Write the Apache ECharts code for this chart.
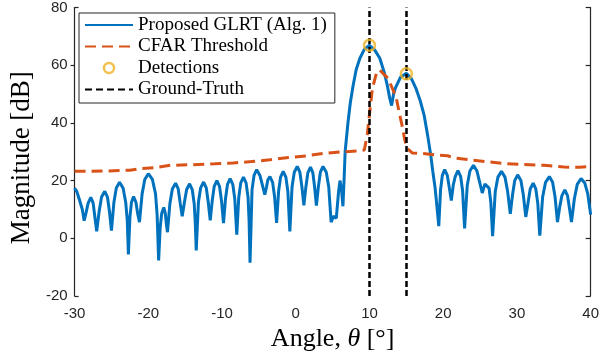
<!DOCTYPE html>
<html>
<head>
<meta charset="utf-8">
<script src="https://cdn.jsdelivr.net/npm/echarts@6/dist/echarts.min.js"></script>
<style>html,body{margin:0;padding:0;background:#fff}#c{width:602px;height:360px}</style>
</head>
<body>
<div id="c"></div>
<script>
// Angle grid (deg) and GLRT magnitude (dB)
const glrtAngle = [
 -30,-29.7,-29.3,-28.95,-28.7,-28.43,-28.16,-27.8,-27.48,-27.24,-27.0,
 -26.67,-26.34,-25.9,-25.54,-25.27,-25.0,
 -24.67,-24.34,-23.9,-23.42,-23.06,-22.85,-22.7,
 -22.49,-22.28,-22.0,-21.68,-21.44,-21.2,
 -20.84,-20.48,-20.0,-19.44,-19.02,-18.8,-18.6,
 -18.39,-18.18,-17.9,-17.7,-17.55,-17.4,
 -17.07,-16.74,-16.3,-15.94,-15.67,-15.4,
 -15.1,-14.8,-14.4,-14.04,-13.77,-13.62,-13.5,
 -13.2,-12.9,-12.5,-12.14,-11.87,-11.6,
 -11.33,-11.06,-10.7,-10.34,-10.07,-9.8,
 -9.53,-9.26,-8.9,-8.54,-8.27,-8.0,
 -7.73,-7.46,-7.1,-6.74,-6.47,-6.33,-6.2,
 -5.93,-5.66,-5.3,-4.86,-4.53,-4.2,
 -3.99,-3.78,-3.5,-3.14,-2.87,-2.6,
 -2.33,-2.06,-1.7,-1.34,-1.07,-0.8,
 -0.5,-0.2,0.2,0.56,0.83,1.1,
 1.37,1.64,2.0,2.32,2.56,2.8,
 3.07,3.34,3.7,4.14,4.47,4.8,
 5.1,5.5,5.8,6.0,6.2,6.4,
 6.55,6.7,7.1,7.4,7.8,8.2,8.7,9.3,10.0,10.7,11.4,12.0,12.4,12.75,13.0,
 13.3,13.6,14.2,15.0,15.7,16.3,16.9,17.4,17.9,18.3,18.6,18.9,19.15,19.4,
 19.64,19.88,20.2,20.56,20.83,21.1,
 21.37,21.64,22.0,22.36,22.63,22.9,
 23.26,23.62,24.1,24.58,24.94,25.3,
 25.48,25.66,25.9,26.22,26.46,26.7,
 27.06,27.42,27.9,28.38,28.74,29.1,
 29.4,29.7,30.1,30.54,30.87,31.2,
 31.5,31.8,32.2,32.56,32.83,33.1,
 33.49,33.88,34.4,34.84,35.17,35.5,
 35.8,36.1,36.5,36.86,37.13,37.4,
 37.79,38.18,38.7,39.2,39.6,40
];
const glrtDb = [
 17.4,16.2,13,10,6.1,9.0,12.2,14.2,12.2,7.2,2.4,
 9.3,14.3,16.3,14.3,9.3,2.7,
 12.4,17.4,19.4,17.4,12.4,6,-5.6,
 7.5,12.5,14.5,12.5,8.5,5.6,
 15.4,20.4,22.4,20.4,15.4,8,-7.7,
 3.7,8.7,10.7,8.7,5,2.1,
 12.1,17.1,19.1,17.1,12.1,7.6,
 12.5,16.9,18.9,16.9,11.9,5,-4.2,
 12.5,17.5,19.5,17.5,12.5,6.2,
 13.0,18.0,20.0,18.0,13.0,5.3,
 13.7,18.7,20.7,18.7,13.7,1.3,
 14.2,19.2,21.2,19.2,14.2,6,-8.5,
 16.8,21.8,23.8,21.8,18.5,15.1,
 17.5,20.3,21.4,19.4,14.4,5.3,
 16.2,21.2,23.2,21.2,16.2,2.4,
 17.9,22.9,24.9,22.9,17.9,11.4,
 17.7,22.7,24.7,22.7,17.7,11.3,
 17.9,22.9,24.9,22.9,17.9,5.6,
 7.6,7.0,16,20.0,17,11.1,
 20,30.1,40.5,47,53.2,58.5,62.4,65.5,66.9,65.3,62.4,57.5,53.2,48.5,46.0,
 50.5,52.6,55.8,57.2,55.3,52.0,47.5,42.8,35.5,29.0,23,17.5,11,4.2,
 16.8,21.8,23.8,21.8,17.5,13.1,
 18.5,21.5,23.5,21.5,16.5,3.4,
 18.3,23.3,25.3,23.3,19.5,15.7,
 17.3,18.8,19.4,17.4,12.4,0.7,
 16.2,21.2,23.2,21.2,16.2,8.5,
 15,20,22.0,20,15,7.4,
 12.1,17.1,19.1,17.1,12.1,0.9,
 14.4,19.4,21.4,19.4,14.4,5.6,
 10.8,14.8,16.8,14.8,10.3,5.6,
 13.7,18.7,20.7,19.2,15.5,8.2
];
// CFAR threshold (dB)
const cfarAngle = [-30,-26,-22.5,-21,-19,-17,-14,-11,-8.5,-6,-3.5,-1,1.5,4,6.5,8.5,9.3,9.7,10.0,10.4,11.0,11.4,11.9,12.5,13.1,13.6,14.0,14.4,14.8,15.1,15.8,17.6,19.5,20.6,21.5,23.0,25.7,28.4,31.0,33.7,36.4,38.5,40];
const cfarDb = [23.2,23.3,23.6,24.2,24.5,25.3,25.5,25.8,26.1,26.6,27.2,28.0,28.6,29.5,30.0,30.3,30.6,36,43,52,57.8,58.3,57,55.5,52,49.1,44,39.3,34,31.2,29.6,29.3,28.8,28.6,27.8,27.4,26.6,25.9,25.6,25.3,24.7,24.6,24.9];
// Detections
const detAngle = [10, 15];
const detDb = [66.9, 57.0];
// Ground-truth angles
const groundTruth = [10, 15];
// Axis ticks
const xTicks = {min: -30, max: 40, step: 10};
const yTicks = {min: -20, max: 80, step: 20};

const pair = (xs, ys) => xs.map((x, i) => [x, ys[i]]);
const axisColor = '#262626';
const noSymbol = {color: 'rgba(0,0,0,0)', borderColor: 'rgba(0,0,0,0)', borderWidth: 0};
const chart = echarts.init(document.getElementById('c'), null, {renderer: 'canvas'});
chart.setOption({
  animation: false,
  backgroundColor: '#fff',
  grid: {left: 72, right: 8, top: 6, bottom: 64},
  xAxis: [{
    type: 'value', min: xTicks.min, max: xTicks.max, interval: xTicks.step,
    axisLine: {show: false, onZero: false}, axisTick: {show: false}, splitLine: {show: false},
    axisLabel: {fontSize: 15, color: axisColor, margin: 10, fontFamily: 'Liberation Sans'},
    name: 'Angle, {i|θ} [°]', nameLocation: 'middle', nameGap: 27,
    nameTextStyle: {fontSize: 26, fontFamily: 'Liberation Serif', color: '#000',
      rich: {i: {fontSize: 26, fontFamily: 'Liberation Serif', fontStyle: 'italic', color: '#000'}}}
  }],
  yAxis: [{
    type: 'value', position: 'left', min: yTicks.min, max: yTicks.max, interval: yTicks.step,
    axisLine: {show: true, onZero: false, lineStyle: {color: axisColor, width: 1.2}},
    axisTick: {show: true, inside: false, length: 4, lineStyle: {color: axisColor, width: 1.2}, customValues: [0, 20, 40, 60]},
    splitLine: {show: false},
    axisLabel: {fontSize: 15, color: axisColor, margin: 7, fontFamily: 'Liberation Sans'},
    name: 'Magnitude [dB]', nameLocation: 'middle', nameGap: 33,
    nameTextStyle: {fontSize: 27, fontFamily: 'Liberation Serif', color: '#000', padding: [0, 12, 0, 0]}
  }, {
    type: 'value', position: 'left', min: yTicks.min, max: yTicks.max, interval: yTicks.max - yTicks.min,
    axisLine: {show: false, onZero: false}, splitLine: {show: false}, axisLabel: {show: false},
    axisTick: {show: true, inside: true, length: 4, lineStyle: {color: axisColor, width: 1.2}}
  }, {
    type: 'value', position: 'right', min: yTicks.min, max: yTicks.max, interval: yTicks.step,
    axisLine: {show: true, onZero: false, lineStyle: {color: axisColor, width: 1.2}},
    axisTick: {show: true, inside: true, length: 5, lineStyle: {color: axisColor, width: 1.2}},
    splitLine: {show: false}, axisLabel: {show: false}
  }],
  legend: {
    orient: 'vertical', left: 79, top: 13,
    padding: [1.5, 8, 3, 5],
    itemWidth: 48, itemHeight: 10, itemGap: 0.5,
    borderColor: axisColor, borderWidth: 1, backgroundColor: '#fff',
    textStyle: {fontSize: 19, lineHeight: 21, fontFamily: 'Liberation Serif', color: '#000'},
    data: [
      {name: 'Proposed GLRT (Alg. 1)', itemStyle: noSymbol},
      {name: 'CFAR Threshold', itemStyle: noSymbol},
      {name: 'Detections', itemStyle: {color: 'rgba(0,0,0,0)', borderColor: '#EDB120', borderWidth: 2.5}},
      {name: 'Ground-Truth', itemStyle: noSymbol, lineStyle: {type: [7, 4]}}
    ]
  },
  series: [{
    name: 'Proposed GLRT (Alg. 1)', type: 'line', data: pair(glrtAngle, glrtDb),
    symbol: 'none', lineStyle: {color: '#0072BD', width: 3}, itemStyle: {color: '#0072BD'}, z: 2
  }, {
    name: 'CFAR Threshold', type: 'line', data: pair(cfarAngle, cfarDb),
    symbol: 'none', lineStyle: {color: '#D95319', width: 3, type: [11, 6]}, itemStyle: {color: '#D95319'}, z: 3
  }, {
    name: 'Ground-Truth', type: 'line', data: [],
    symbol: 'none', lineStyle: {color: '#000', width: 2.5, type: [6, 3]}, itemStyle: {color: '#000'}, z: 4,
    markLine: {
      silent: true, symbol: ['none', 'none'], label: {show: false},
      lineStyle: {color: '#000', width: 2.5, type: [6, 3]},
      data: groundTruth.map(v => ({xAxis: v}))
    }
  }, {
    name: 'Detections', type: 'scatter', data: pair(detAngle, detDb),
    symbol: 'circle', symbolSize: 11,
    itemStyle: {color: 'rgba(0,0,0,0)', borderColor: '#EDB120', borderWidth: 2.5}, z: 5
  }]
});
</script>
</body>
</html>
